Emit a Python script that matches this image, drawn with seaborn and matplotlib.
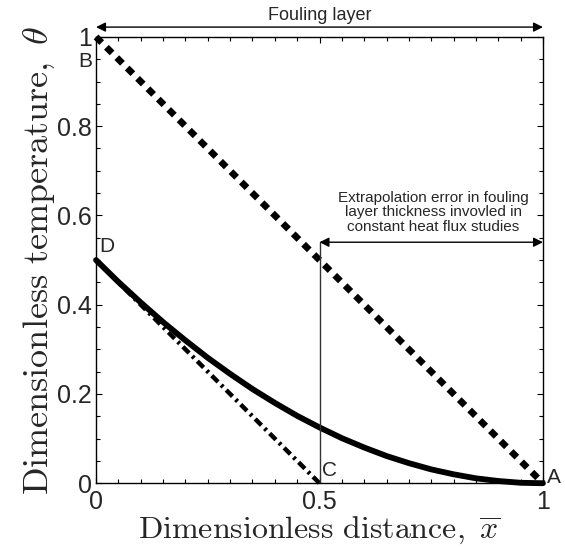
import numpy as np
import pandas as pd
import matplotlib
matplotlib.use("Agg")
import matplotlib.pyplot as plt
import seaborn as sns
from matplotlib.ticker import MultipleLocator, FixedLocator

# ---- data ----
x_solid = [0.0, 0.05, 0.1, 0.15, 0.2, 0.25, 0.3, 0.35, 0.4, 0.45, 0.5,
           0.55, 0.6, 0.65, 0.7, 0.75, 0.8, 0.85, 0.9, 0.95, 1.0]
theta_solid = [0.5, 0.451, 0.405, 0.361, 0.32, 0.281, 0.245, 0.211, 0.18, 0.151, 0.125,
               0.101, 0.08, 0.061, 0.045, 0.031, 0.02, 0.011, 0.005, 0.001, 0.0]
x_dashed = [0.0, 1.0]
theta_dashed = [1.0, 0.0]
x_dashdot = [0.0, 0.5]
theta_dashdot = [0.5, 0.0]
x_ticks = [0, 0.5, 1]
x_ticklabels = ["0", "0.5", "1"]
y_ticks = [0, 0.2, 0.4, 0.6, 0.8, 1]
y_ticklabels = ["0", "0.2", "0.4", "0.6", "0.8", "1"]
point_labels = ["A", "B", "C", "D"]

sns.set_style("ticks")
plt.rcParams["font.family"] = ["Liberation Sans", "DejaVu Sans"]
plt.rcParams["mathtext.fontset"] = "cm"

fig = plt.figure(figsize=(5.65, 5.51), dpi=100)
ax = fig.add_axes([0.170, 0.123, 0.791, 0.810])

df_solid = pd.DataFrame({"x": x_solid, "y": theta_solid})
df_dashed = pd.DataFrame({"x": x_dashed, "y": theta_dashed})
df_dd = pd.DataFrame({"x": x_dashdot, "y": theta_dashdot})

sns.lineplot(data=df_dashed, x="x", y="y", ax=ax, color="black", lw=4.8,
             linestyle=(0, (1.2, 1.0)), sort=False, clip_on=False)
sns.lineplot(data=df_dd, x="x", y="y", ax=ax, color="black", lw=3.2,
             linestyle=(0, (2.0, 1.0, 0.6, 1.0)), sort=False, clip_on=False)
sns.lineplot(data=df_solid, x="x", y="y", ax=ax, color="black", lw=4.2,
             sort=False, clip_on=False)

# vertical thin line at x = 0.5
ax.plot([0.5, 0.5], [0.0, 0.54], color="#333333", lw=1.0)

ax.set_xlim(0, 1)
ax.set_ylim(0, 1)
ax.xaxis.set_major_locator(FixedLocator(x_ticks))
ax.set_xticklabels(x_ticklabels)
ax.yaxis.set_major_locator(FixedLocator(y_ticks))
ax.set_yticklabels(y_ticklabels)
ax.xaxis.set_minor_locator(MultipleLocator(0.05))
ax.yaxis.set_minor_locator(MultipleLocator(0.05))
ax.tick_params(which="both", direction="in", top=True, right=True,
               labelsize=18, width=0.8, color="black")
ax.tick_params(axis="y", pad=3)
ax.tick_params(axis="x", pad=5)
ax.tick_params(which="major", length=4)
ax.tick_params(which="minor", length=3)
for s in ax.spines.values():
    s.set_linewidth(1.0)
    s.set_color("black")

ax.set_xlabel(r"$\mathrm{Dimensionless\ distance,}\ \overline{x}$", fontsize=23, labelpad=0)
ax.set_ylabel(r"$\mathrm{Dimensionless\ temperature,}\ \theta$", fontsize=26, labelpad=0)

# top arrow "Fouling layer"
ax.annotate("", xy=(1.0, 1.022), xytext=(0.0, 1.022), xycoords="data",
            arrowprops=dict(arrowstyle="<|-|>", color="black", lw=1.0,
                            mutation_scale=14, shrinkA=0, shrinkB=0),
            annotation_clip=False)
ax.text(0.5, 1.03, "Fouling layer", ha="center", va="bottom", fontsize=13)

# extrapolation error arrow
ax.annotate("", xy=(1.0, 0.54), xytext=(0.5, 0.54), xycoords="data",
            arrowprops=dict(arrowstyle="<|-|>", color="black", lw=1.0,
                            mutation_scale=14, shrinkA=0, shrinkB=0),
            annotation_clip=False)
ax.text(0.754, 0.607, "Extrapolation error in fouling\nlayer thickness invovled in\nconstant heat flux studies",
        ha="center", va="center", fontsize=11, linespacing=1.05)

# point labels
ax.text(1.01, 0.012, point_labels[0], ha="left", va="center", fontsize=15)
ax.text(-0.008, 0.945, point_labels[1], ha="right", va="center", fontsize=15)
ax.text(0.505, 0.008, point_labels[2], ha="left", va="bottom", fontsize=15)
ax.text(0.008, 0.51, point_labels[3], ha="left", va="bottom", fontsize=15)

fig.savefig("out.png", dpi=100)
